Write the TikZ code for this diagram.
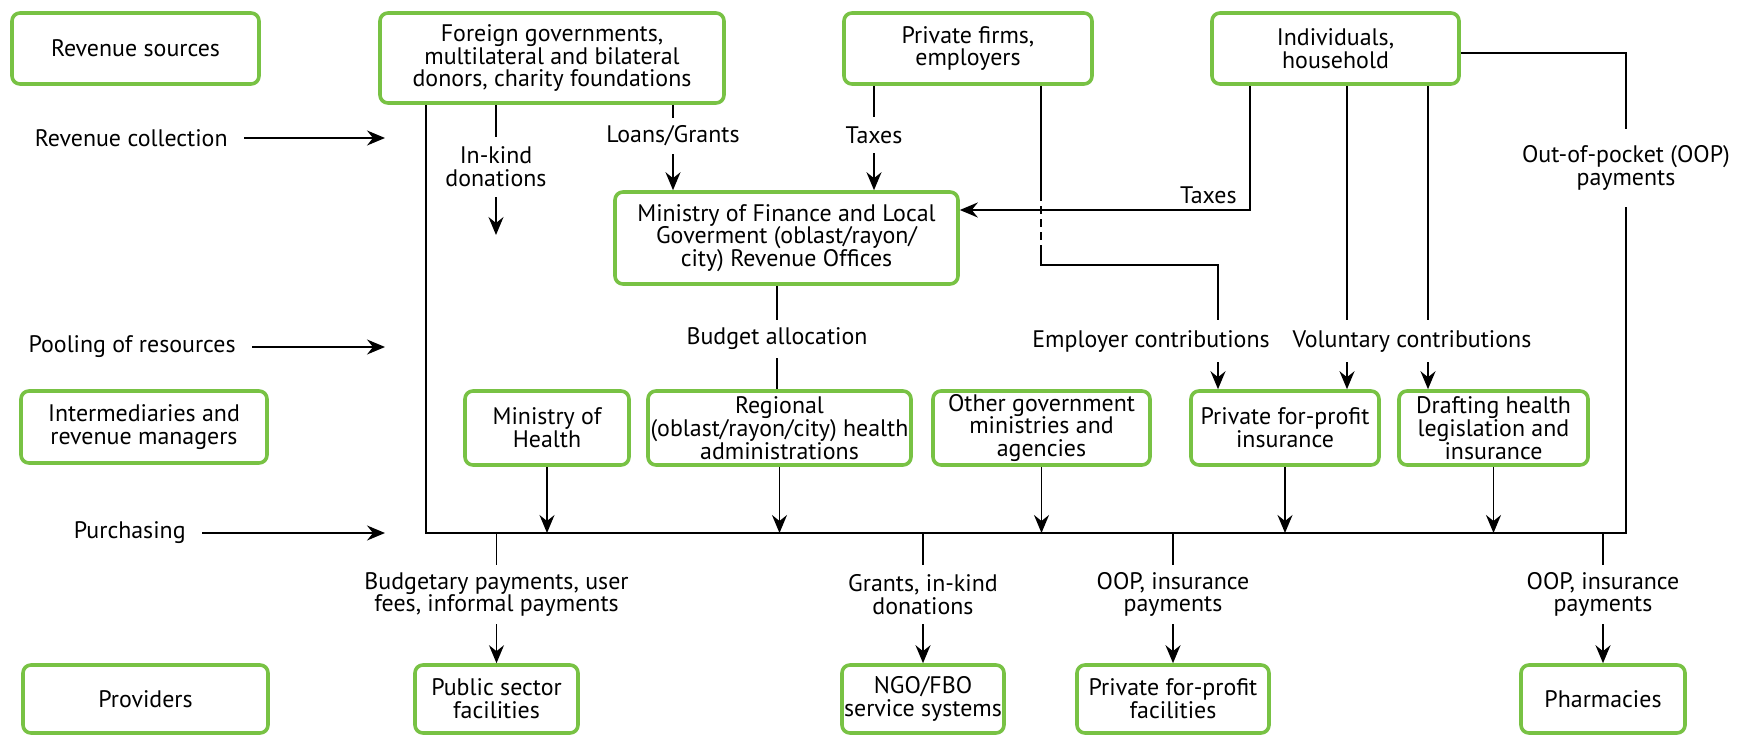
\documentclass[tikz,border=0pt]{standalone}
\usepackage{fontspec}
\setmainfont{PT Sans}
\usetikzlibrary{arrows.meta}
\definecolor{boxgreen}{RGB}{120,194,68}
\tikzset{
  box/.style={draw=boxgreen, fill=white, line width=1.8bp, rounded corners=4bp,
    align=center, inner sep=0pt, font=\fontsize{12}{11.4}\selectfont},
  lbl/.style={align=center, inner sep=0pt, font=\fontsize{12}{11.4}\selectfont},
  stage/.style={lbl, inner xsep=8bp, anchor=east},
  flow/.style={line width=0.9bp},
  bus/.style={line width=1.3bp, line join=miter},
}
\begin{document}
\begin{tikzpicture}[x=0.5bp,y=-0.5bp,>={Stealth[length=9bp,width=7.5bp,inset=3bp]}]
  \useasboundingbox (0,0) rectangle (1739,739);
%%
  % Node: Revenue sources
  \node[box, minimum width=123.5bp, minimum height=35.5bp] (src) at (135.5,48.5) {Revenue sources};
  % Node: Intermediaries
  \node[box, minimum width=123bp, minimum height=36bp] (inter) at (144,427) {Intermediaries and\\revenue managers};
  % Node: Providers
  \node[box, minimum width=122.5bp, minimum height=34bp] (prov) at (145.5,699) {Providers};
  % Node: Donors
  \node[box, minimum width=172bp, minimum height=45bp] (donors) at (552,58) {Foreign governments,\\multilateral and bilateral\\donors, charity foundations};
  % Node: Firms
  \node[box, minimum width=124bp, minimum height=35.5bp] (firms) at (968,48.5) {Private firms,\\employers};
  % Node: Individuals
  \node[box, minimum width=123.5bp, minimum height=35.5bp] (indiv) at (1335.5,48.5) {Individuals,\\household};
  % Node: MoF
  \node[box, minimum width=171.5bp, minimum height=46bp] (mof) at (786.5,238) {Ministry of Finance and Local\\Goverment (oblast/rayon/\\city) Revenue Offices};
  % Node: MoH
  \node[box, minimum width=82bp, minimum height=37bp] (moh) at (547,428) {Ministry of\\Health};
  % Node: Regional
  \node[box, minimum width=131.5bp, minimum height=37bp] (reg) at (779.5,428) {Regional\\(oblast/rayon/city) health\\administrations};
  % Node: Other
  \node[box, minimum width=108.5bp, minimum height=37bp] (other) at (1041.5,428) {Other government\\ministries and\\agencies};
  % Node: Insurance
  \node[box, minimum width=94bp, minimum height=37bp] (pins) at (1285,428) {Private for-profit\\insurance};
  % Node: Drafting
  \node[box, minimum width=94.5bp, minimum height=37bp] (draft) at (1493.5,428) {Drafting health\\legislation and\\insurance};
  % Node: Public
  \node[box, minimum width=81.5bp, minimum height=34bp] (pub) at (496.5,699) {Public sector\\facilities};
  % Node: NGO
  \node[box, minimum width=81bp, minimum height=34bp] (ngo) at (923,699) {NGO/FBO\\service systems};
  % Node: Private facilities
  \node[box, minimum width=96bp, minimum height=34bp] (ppf) at (1173,699) {Private for-profit\\facilities};
  % Node: Pharmacies
  \node[box, minimum width=82bp, minimum height=34bp] (pharm) at (1603,699) {Pharmacies};
%%
  % Labels
  \node[stage] (lcoll) at (244,138) {Revenue collection};
  \node[stage] (lpool) at (252,347) {Pooling of resources};
  \node[stage] (lpurch) at (202,533) {Purchasing};
  \coordinate (ecoll) at (385,138);
  \coordinate (epool) at (385,347);
  \coordinate (epurch) at (385,533);
  \node[lbl, minimum height=30bp] (inkind) at (496,167) {In-kind\\donations};
  \coordinate (ikend) at (496,235);
  \node[lbl, minimum height=18bp] (loans) at (673,136) {Loans/Grants};
  \node[lbl, minimum height=18bp] (taxa) at (874,135) {Taxes};
  \node[lbl, anchor=south east] (taxb) at (1237,204) {Taxes};
  \node[lbl, minimum height=19bp] (budget) at (777,339) {Budget allocation};
  \node[lbl, minimum height=21bp] (empl) at (1151,341) {Employer contributions};
  \node[lbl, minimum height=21bp] (volun) at (1412,341) {Voluntary contributions};
  \node[lbl, minimum height=39bp] (oop) at (1626,168) {Out-of-pocket (OOP)\\payments};
  \node[lbl, minimum height=29.5bp] (budg) at (496.5,594.5) {Budgetary payments, user\\fees, informal payments};
  \node[lbl, minimum height=29.5bp] (grants) at (923,594.5) {Grants, in-kind\\donations};
  \node[lbl, minimum height=29.5bp] (oopa) at (1173,594.5) {OOP, insurance\\payments};
  \node[lbl, minimum height=29.5bp] (oopb) at (1603,594.5) {OOP, insurance\\payments};
  \coordinate (busL) at (426,533);
  \coordinate (oopc) at (1626,53);
  \coordinate (txc) at (1250,210);
  \coordinate (emA) at (1041,193);
  \coordinate (emB) at (1041,253);
  \coordinate (emC) at (1218,265);
  \coordinate (vA) at (1347,320);
  \coordinate (vB) at (1428,320);
%%
  % Edge: stages -> flow
  \draw[flow,->] (lcoll) -- (ecoll);
  \draw[flow,->] (lpool) -- (epool);
  \draw[flow,->] (lpurch) -- (epurch);
  % Edge: Donors -> In-kind
  \draw[flow] (donors.south -| inkind.north) -- (inkind.north);
  \draw[flow,->] (inkind.south) -- (ikend);
  % Edge: Donors -> MoF
  \draw[flow] (donors.south -| loans.north) -- (loans.north);
  \draw[flow,->] (loans.south) -- (mof.north -| loans.south);
  % Edge: Firms -> MoF
  \draw[flow] (firms.south -| taxa.north) -- (taxa.north);
  \draw[flow,->] (taxa.south) -- (mof.north -| taxa.south);
  % Edge: Individuals -> MoF
  \draw[flow,->] (indiv.south -| txc) -- (txc) -- (mof.east |- txc);
  % Edge: Firms -> Insurance
  \draw[flow] (firms.south -| emA) -- (emA);
  \draw[flow, dash pattern=on 4bp off 2.5bp] (emA) -- (emB);
  \draw[flow] (emB) |- (emC) -- (empl.north -| emC);
  \draw[flow,->] (empl.south -| emC) -- (pins.north -| emC);
  % Edge: Individuals -> Insurance, Drafting
  \draw[flow] (indiv.south -| vA) -- (vA);
  \draw[flow,->] (volun.south -| vA) -- (pins.north -| vA);
  \draw[flow] (indiv.south -| vB) -- (vB);
  \draw[flow,->] (volun.south -| vB) -- (draft.north -| vB);
  % Edge: MoF -> Regional
  \draw[flow] (mof.south -| budget.north) -- (budget.north);
  \draw[flow] (budget.south) -- (reg.north -| budget.south);
  % Edge: Individuals -> OOP
  \draw[bus] (indiv.east |- oopc) -- (oopc) -- (oop.north);
  % Edge: Donors -> purchasing bus -> OOP
  \draw[bus] (donors.south -| busL) -- (busL) -- (busL -| oop.south) -- (oop.south);
  % Edge: intermediaries -> bus
  \draw[flow,->] (moh.south) -- (moh.south |- busL);
  \draw[flow,->] (reg.south) -- (reg.south |- busL);
  \draw[flow,->] (other.south) -- (other.south |- busL);
  \draw[flow,->] (pins.south) -- (pins.south |- busL);
  \draw[flow,->] (draft.south) -- (draft.south |- busL);
  % Edge: bus -> providers
  \draw[flow] (busL -| budg.north) -- (budg.north);
  \draw[flow,->] (budg.south) -- (pub.north);
  \draw[flow] (busL -| grants.north) -- (grants.north);
  \draw[flow,->] (grants.south) -- (ngo.north);
  \draw[flow] (busL -| oopa.north) -- (oopa.north);
  \draw[flow,->] (oopa.south) -- (ppf.north);
  \draw[flow] (busL -| oopb.north) -- (oopb.north);
  \draw[flow,->] (oopb.south) -- (pharm.north);
%
\end{tikzpicture}
\end{document}
